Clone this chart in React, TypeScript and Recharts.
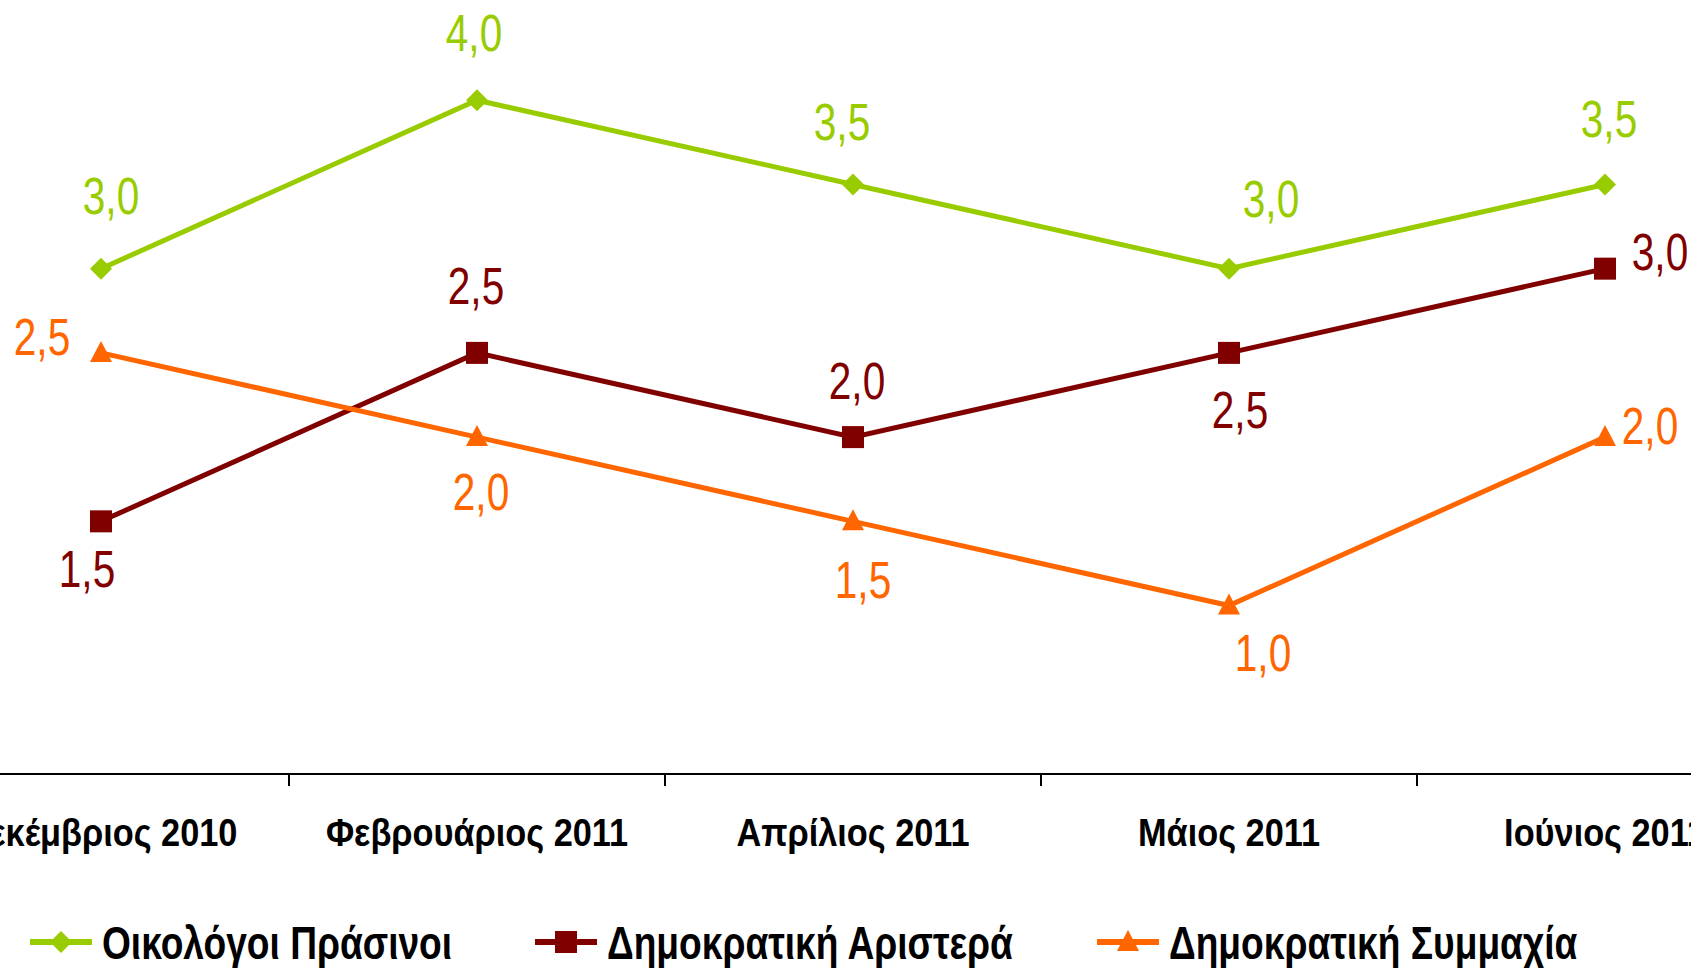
import { LineChart, Line, XAxis, YAxis, LabelList } from 'recharts'

const months = ['Δεκέμβριος 2010', 'Φεβρουάριος 2011', 'Απρίλιος 2011', 'Μάιος 2011', 'Ιούνιος 2011']
const ecoGreens = [3.0, 4.0, 3.5, 3.0, 3.5]
const demLeft = [1.5, 2.5, 2.0, 2.5, 3.0]
const demAlliance = [2.5, 2.0, 1.5, 1.0, 2.0]

const seriesNames = ['Οικολόγοι Πράσινοι', 'Δημοκρατική Αριστερά', 'Δημοκρατική Συμμαχία']

const data = months.map((m, i) => ({
  month: m,
  eco: ecoGreens[i],
  left: demLeft[i],
  alliance: demAlliance[i],
}))

// label nudges (dx, dy) relative to each point, like the hand-placed Excel labels
const ecoLabelOffsets = [[10, -73], [-3, -67], [-11, -62], [42, -70], [4, -65]]
const leftLabelOffsets = [[-14, 48], [-1, -67], [4, -56], [11, 57], [55, -17]]
const allianceLabelOffsets = [[-59, -16], [4, 55], [10, 59], [34, 47], [45, -11]]

const GREEN = '#99CC00'
const DARKRED = '#800000'
const ORANGE = '#FF6600'
const FONT = '"Liberation Sans", Arial, sans-serif'
const BAND = 376

// no narrow font installed -> squeeze Liberation Sans horizontally
function NarrowText({ x, y, scale, children, ...rest }: any) {
  return (
    <g transform={`translate(${x},${y}) scale(${scale},1)`}>
      <text x={0} y={0} fontFamily={FONT} {...rest}>
        {children}
      </text>
    </g>
  )
}

function Marker({ cx, cy, shape, color }: any) {
  if (cx == null || cy == null) return null
  if (shape === 'diamond') {
    const r = 11
    return <polygon points={`${cx},${cy - r} ${cx + r},${cy} ${cx},${cy + r} ${cx - r},${cy}`} fill={color} />
  }
  if (shape === 'square') {
    return <rect x={cx - 11} y={cy - 11} width={22} height={22} fill={color} />
  }
  return <polygon points={`${cx},${cy - 12} ${cx + 11},${cy + 9} ${cx - 11},${cy + 9}`} fill={color} />
}

const fmt = (v: number) => v.toFixed(1).replace('.', ',')

function makeLabel(color: string, offsets: number[][]) {
  return (props: any) => {
    const { x, y, value, index } = props
    const [dx, dy] = offsets[index] || [0, 0]
    return (
      <NarrowText x={x + dx} y={y + dy + 18} scale={0.78} fill={color} fontSize={52} textAnchor="middle">
        {fmt(value)}
      </NarrowText>
    )
  }
}

function MonthTick({ x, y, payload }: any) {
  return (
    <g>
      <line x1={x - BAND / 2} y1={y} x2={x - BAND / 2} y2={y + 12} stroke="#000" strokeWidth={2} />
      <line x1={x + BAND / 2} y1={y} x2={x + BAND / 2} y2={y + 12} stroke="#000" strokeWidth={2} />
      <NarrowText x={x} y={y + 72} scale={0.88} textAnchor="middle" fontWeight="bold" fontSize={39} fill="#000">
        {payload.value}
      </NarrowText>
    </g>
  )
}

const legendItems = [
  { name: seriesNames[0], shape: 'diamond', color: GREEN, left: 30 },
  { name: seriesNames[1], shape: 'square', color: DARKRED, left: 535 },
  { name: seriesNames[2], shape: 'triangle', color: ORANGE, left: 1097 },
]

function ChartLegend() {
  return (
    <svg width={1691} height={60} style={{ position: 'absolute', left: 0, top: 912 }}>
      {legendItems.map((it) => (
        <g key={it.name}>
          <line x1={it.left} y1={30} x2={it.left + 62} y2={30} stroke={it.color} strokeWidth={6} />
          <Marker cx={it.left + 31} cy={30} shape={it.shape} color={it.color} />
          <NarrowText x={it.left + 72} y={47} scale={0.79} fontWeight="bold" fontSize={47} fill="#000">
            {it.name}
          </NarrowText>
        </g>
      ))}
    </svg>
  )
}

export default function App() {
  return (
    <div style={{ position: 'fixed', left: 0, top: 0, width: 1691, height: 968, overflow: 'hidden', background: '#fff' }}>
      <div style={{ position: 'absolute', left: -87, top: 0 }}>
        <LineChart width={1880} height={968} data={data} margin={{ top: 16, right: 0, bottom: 0, left: 0 }}>
          <XAxis
            dataKey="month"
            height={194}
            interval={0}
            padding={{ left: BAND / 2, right: BAND / 2 }}
            tickLine={false}
            tickSize={0}
            tickMargin={0}
            axisLine={{ stroke: '#000', strokeWidth: 2 }}
            tick={<MonthTick />}
          />
          <YAxis hide domain={[0, 4.5]} />
          <Line
            dataKey="eco"
            name={seriesNames[0]}
            stroke={GREEN}
            strokeWidth={5}
            dot={(p: any) => <Marker key={p.index} cx={p.cx} cy={p.cy} shape="diamond" color={GREEN} />}
            isAnimationActive={false}
          >
            <LabelList dataKey="eco" content={makeLabel(GREEN, ecoLabelOffsets)} />
          </Line>
          <Line
            dataKey="left"
            name={seriesNames[1]}
            stroke={DARKRED}
            strokeWidth={5}
            dot={(p: any) => <Marker key={p.index} cx={p.cx} cy={p.cy} shape="square" color={DARKRED} />}
            isAnimationActive={false}
          >
            <LabelList dataKey="left" content={makeLabel(DARKRED, leftLabelOffsets)} />
          </Line>
          <Line
            dataKey="alliance"
            name={seriesNames[2]}
            stroke={ORANGE}
            strokeWidth={5}
            dot={(p: any) => <Marker key={p.index} cx={p.cx} cy={p.cy} shape="triangle" color={ORANGE} />}
            isAnimationActive={false}
          >
            <LabelList dataKey="alliance" content={makeLabel(ORANGE, allianceLabelOffsets)} />
          </Line>
        </LineChart>
      </div>
      <ChartLegend />
    </div>
  )
}
